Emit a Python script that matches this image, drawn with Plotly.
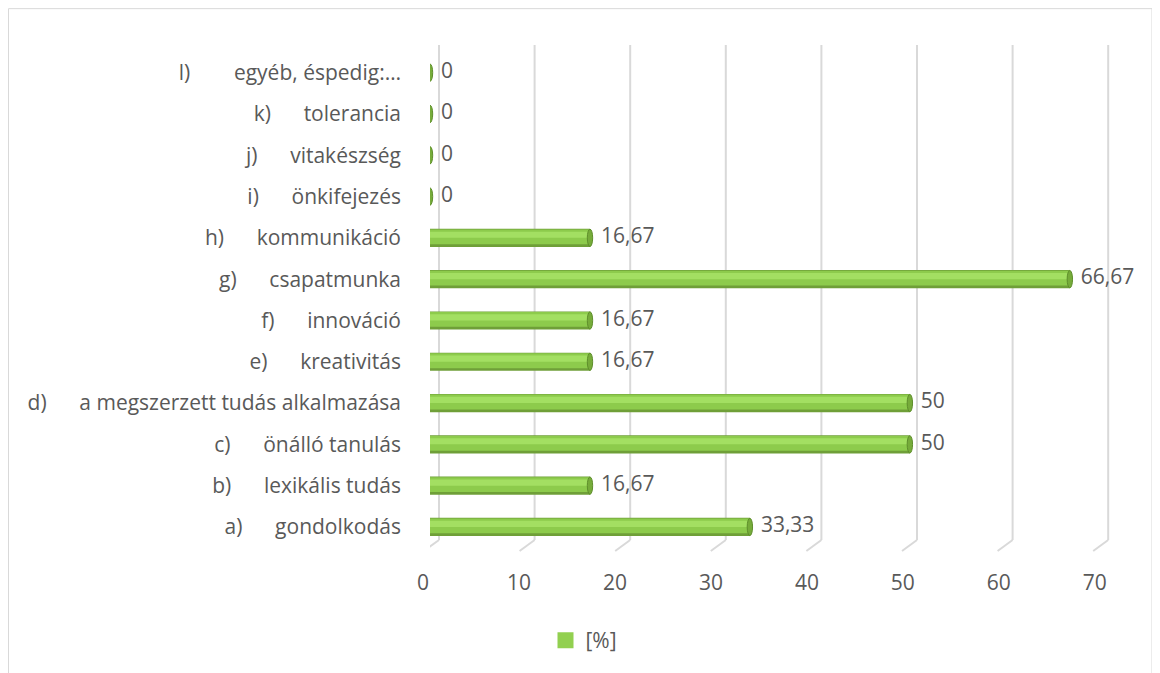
import plotly.graph_objects as go

letters = ["a)", "b)", "c)", "d)", "e)", "f)", "g)", "h)", "i)", "j)", "k)", "l)"]
names = ["gondolkodás", "lexikális tudás", "önálló tanulás",
         "a megszerzett tudás alkalmazása", "kreativitás", "innováció",
         "csapatmunka", "kommunikáció", "önkifejezés", "vitakészség",
         "tolerancia", "egyéb, éspedig:…"]
values = [33.33, 16.67, 50, 50, 16.67, 16.67, 66.67, 16.67, 0, 0, 0, 0]
series_name = "[%]"
x_ticks = [0, 10, 20, 30, 40, 50, 60, 70]

OFF = 8  # browser body margin
W, H = 1160 - OFF, 673 - OFF
ML, MT = 430 - OFF, 45 - OFF
PW, PH = 691, 498
MR = W - ML - PW
MB = H - MT - PH
XMAX = 72
PXU = PW / XMAX  # pixels per x unit


def px_x(p):  # reference pixel -> paper x
    return (p - OFF - ML) / PW


def px_y(p):  # reference pixel -> paper y
    return (MT + PH - (p - OFF)) / PH


pos = list(range(len(names)))
NB = "\u00a0"
ticktext = [f"{l}{NB * (8 if l == 'l)' else 6)}{n}" for l, n in zip(letters, names)]
labels = [f"{v:g}".replace(".", ",") for v in values]

FONT = "Open Sans"
FS = 21
TXT = "#595959"
GRID = "#D9D9D9"

fig = go.Figure()
fig.add_trace(go.Bar(x=values, y=pos, orientation="h", width=0.44, offset=-0.22,
                     marker=dict(color="#6F9F38", line=dict(width=0)),
                     showlegend=False, hoverinfo="skip"))
fig.add_trace(go.Bar(x=values, y=pos, orientation="h", width=0.36, offset=-0.155,
                     marker=dict(color="#8DCB4C", line=dict(width=0)),
                     showlegend=False, hoverinfo="skip"))
fig.add_trace(go.Bar(x=values, y=pos, orientation="h", width=0.15, offset=0.0,
                     marker=dict(color="#A3DF62", line=dict(width=0)),
                     showlegend=False, hoverinfo="skip"))
fig.add_trace(go.Scatter(x=values, y=pos, mode="markers+text", text=labels,
                         textposition="middle right", cliponaxis=False,
                         marker=dict(size=16, opacity=0),
                         textfont=dict(family=FONT, size=FS, color=TXT),
                         showlegend=False, hoverinfo="skip"))
fig.add_trace(go.Scatter(x=[None], y=[None], mode="markers", name=series_name,
                         marker=dict(symbol="square", size=16, color="#92D050")))

shapes = []
# back-wall gridlines with slanted floor segments
for t in x_ticks:
    gx = (9 + t * 9.56) / PXU
    shapes.append(dict(type="line", xref="x", yref="paper", layer="below",
                       x0=gx, x1=gx, y0=px_y(542), y1=1,
                       line=dict(color=GRID, width=2)))
    shapes.append(dict(type="line", xref="x", yref="paper", layer="below",
                       x0=gx, x1=gx - 15 / PXU, y0=px_y(542), y1=px_y(553),
                       line=dict(color=GRID, width=2)))
# end caps of the cylinders
for v, p in zip(values, pos):
    shapes.append(dict(type="circle", xref="x", yref="y",
                       x0=v - 0.28, x1=v + 0.28, y0=p - 0.21, y1=p + 0.21,
                       fillcolor="#76AC3A", line=dict(color="#5E8E2B", width=1)))
# chart border
shapes.append(dict(type="rect", xref="paper", yref="paper",
                   x0=px_x(8.5), x1=px_x(1152), y0=px_y(700), y1=px_y(8.5),
                   line=dict(color=GRID, width=1), fillcolor="rgba(0,0,0,0)",
                   layer="below"))

fig.update_layout(
    width=W, height=H,
    margin=dict(l=ML, r=MR, t=MT, b=MB),
    paper_bgcolor="white", plot_bgcolor="white",
    barmode="overlay",
    font=dict(family=FONT, size=FS, color=TXT),
    shapes=shapes,
    showlegend=True,
    legend=dict(orientation="h", x=px_x(584), xanchor="center",
                y=px_y(643), yanchor="middle",
                font=dict(family=FONT, size=FS, color=TXT)),
    xaxis=dict(range=[0, XMAX], tickvals=x_ticks, showgrid=False,
               zeroline=False, showline=False, ticks="",
               ticklabelshift=-7, ticklabelstandoff=27,
               tickfont=dict(family=FONT, size=FS, color=TXT)),
    yaxis=dict(range=[-0.34, 11.67], tickvals=pos, ticktext=ticktext,
               showgrid=False, zeroline=False, showline=False, ticks="",
               ticklabelstandoff=28,
               tickfont=dict(family=FONT, size=FS, color=TXT)),
)

fig.write_html("out.html")
